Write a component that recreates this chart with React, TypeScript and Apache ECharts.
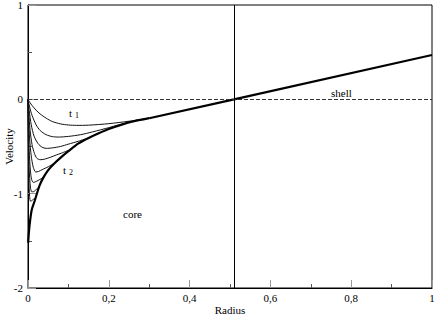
import React, { useEffect, useRef } from "react";
import * as echarts from "echarts";

// Thick envelope (core) profile
const envelopeR = [0.0005, 0.001, 0.002, 0.003, 0.0045, 0.006, 0.008, 0.01, 0.013, 0.017, 0.022, 0.029, 0.038, 0.05, 0.065, 0.083, 0.1, 0.124, 0.15, 0.175, 0.2, 0.23, 0.26, 0.3];
const envelopeV = [-1.52, -1.48, -1.42, -1.37, -1.31, -1.26, -1.2, -1.16, -1.12, -1.07, -1.0, -0.91, -0.83, -0.75, -0.68, -0.61, -0.55, -0.47, -0.41, -0.36, -0.315, -0.272, -0.235, -0.2];
// Straight shell profile
const shellR = [0.3, 0.51, 1.0];
const shellV = [-0.2, 0.0, 0.47];

// Transient profiles t1 ... t2
const c1R = [0, 0.005, 0.01, 0.02, 0.03, 0.045, 0.06, 0.08, 0.1, 0.12, 0.15, 0.2, 0.25, 0.3];
const c1V = [0, -0.035, -0.065, -0.115, -0.155, -0.2, -0.235, -0.26, -0.272, -0.276, -0.274, -0.258, -0.232, -0.2];
const c2R = [0, 0.004, 0.01, 0.02, 0.03, 0.045, 0.06, 0.075, 0.1, 0.13, 0.16, 0.2, 0.25, 0.3];
const c2V = [0, -0.08, -0.17, -0.27, -0.33, -0.375, -0.395, -0.4, -0.393, -0.375, -0.345, -0.3, -0.24, -0.2];
const c3R = [0, 0.003, 0.008, 0.015, 0.025, 0.035, 0.045, 0.06, 0.08, 0.1, 0.124, 0.15];
const c3V = [0, -0.12, -0.27, -0.39, -0.47, -0.508, -0.52, -0.515, -0.5, -0.475, -0.445, -0.408];
const c4R = [0, 0.002, 0.005, 0.01, 0.016, 0.022, 0.03, 0.04, 0.055, 0.07, 0.083, 0.1];
const c4V = [0, -0.15, -0.32, -0.48, -0.575, -0.625, -0.64, -0.635, -0.615, -0.59, -0.57, -0.54];
const c5R = [0, 0.0015, 0.004, 0.008, 0.013, 0.019, 0.026, 0.035, 0.05, 0.065];
const c5V = [0, -0.2, -0.42, -0.6, -0.72, -0.77, -0.765, -0.745, -0.715, -0.677];
const c6R = [0, 0.001, 0.003, 0.006, 0.009, 0.013, 0.018, 0.025, 0.033, 0.04];
const c6V = [0, -0.25, -0.55, -0.76, -0.85, -0.88, -0.875, -0.86, -0.84, -0.82];
const c7R = [0, 0.001, 0.003, 0.006, 0.009, 0.013, 0.018, 0.023, 0.027];
const c7V = [0, -0.4, -0.75, -0.93, -0.98, -0.98, -0.965, -0.945, -0.93];
const c8R = [0, 0.0008, 0.002, 0.004, 0.006, 0.009, 0.013, 0.018];
const c8V = [0, -0.5, -0.85, -1.03, -1.08, -1.075, -1.06, -1.05];

const xTicks = { min: 0, max: 1, interval: 0.2 };
const yTicks = { min: -2, max: 1, interval: 1 };
const boundaryR = 0.51;

const zip = (r: number[], v: number[]) => r.map((x, i) => [x, v[i]]);

const FONT = "Liberation Serif";

export default function App() {
  const ref = useRef<HTMLDivElement>(null);
  useEffect(() => {
    if (!ref.current) return;
    const chart = echarts.init(ref.current, undefined, { renderer: "svg" });
    const thin = [
      [c1R, c1V], [c2R, c2V], [c3R, c3V], [c4R, c4V],
      [c5R, c5V], [c6R, c6V], [c7R, c7V], [c8R, c8V],
    ].map(([r, v]) => ({
      type: "line",
      data: zip(r as number[], v as number[]),
      symbol: "none",
      smooth: 0.25,
      lineStyle: { color: "#111", width: 1 },
      z: 3,
    }));
    const txt = (text: string, x: number, y: number, size: number) => ({
      type: "text", x, y,
      style: { text, fontFamily: FONT, fontSize: size, fill: "#000" },
    });
    chart.setOption({
      animation: false,
      backgroundColor: "#fff",
      textStyle: { fontFamily: FONT },
      grid: {
        left: 28, right: 4, top: 5, bottom: 30,
        outerBoundsMode: "none", containLabel: false,
        show: true, borderColor: "#000", borderWidth: 1,
      },
      xAxis: {
        type: "value",
        ...xTicks,
        name: "Radius",
        nameLocation: "middle",
        nameGap: 16,
        nameMoveOverlap: false,
        nameTextStyle: { fontFamily: FONT, fontSize: 11, color: "#000" },
        axisLine: { onZero: false, lineStyle: { color: "#000", width: 1 } },
        axisTick: { inside: true, length: 8, lineStyle: { color: "#999" } },
        minorTick: { show: true, splitNumber: 2, length: 4, lineStyle: { color: "#555" } },
        splitLine: { show: false },
        axisLabel: {
          fontFamily: FONT, fontSize: 11, color: "#000", margin: 4,
          formatter: (v: number) => String(Math.round(v * 10) / 10).replace(".", ","),
        },
      },
      yAxis: {
        type: "value",
        ...yTicks,
        name: "Velocity",
        nameLocation: "middle",
        nameGap: 14,
        nameMoveOverlap: false,
        nameTextStyle: { fontFamily: FONT, fontSize: 11, color: "#000" },
        axisLine: { onZero: false, lineStyle: { color: "#000", width: 1 } },
        axisTick: { inside: true, length: 8, lineStyle: { color: "#999" } },
        minorTick: { show: true, splitNumber: 2, length: 4, lineStyle: { color: "#555" } },
        splitLine: { show: false },
        axisLabel: { fontFamily: FONT, fontSize: 11, color: "#000", margin: 5 },
      },
      series: [
        {
          type: "line",
          data: zip(envelopeR, envelopeV),
          symbol: "none",
          smooth: 0.2,
          lineStyle: { color: "#000", width: 2.2 },
          z: 4,
          markLine: {
            silent: true,
            symbol: "none",
            label: { show: false },
            data: [
              { yAxis: 0, lineStyle: { type: [4, 2], color: "#333", width: 1 } },
              { xAxis: boundaryR, lineStyle: { type: "solid", color: "#000", width: 1 } },
            ],
          },
        },
        {
          type: "line",
          data: zip(shellR, shellV),
          symbol: "none",
          lineStyle: { color: "#000", width: 2.2 },
          z: 4,
        },
        ...thin,
      ],
      graphic: [
        txt("t", 69, 107, 11),
        txt("1", 75, 111, 8),
        txt("t", 63, 164, 11),
        txt("2", 69, 168, 8),
        txt("core", 123, 208, 11),
        txt("shell", 331, 87, 11),
      ],
    });
    return () => chart.dispose();
  }, []);
  return <div ref={ref} style={{ width: 436, height: 318, position: "absolute", left: 0, top: 0 }} />;
}
